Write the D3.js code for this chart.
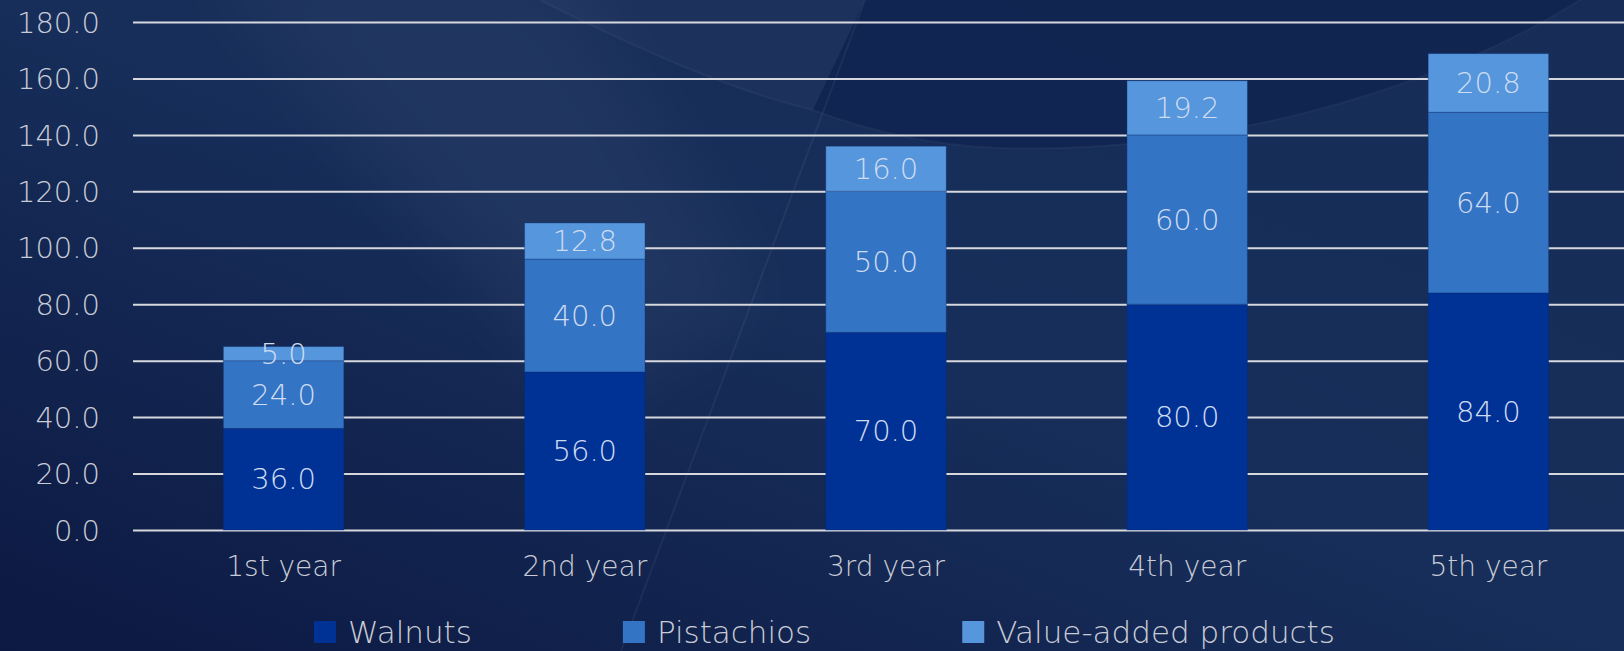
<!DOCTYPE html>
<html>
<head>
<meta charset="utf-8">
<script src="https://cdn.jsdelivr.net/npm/d3@7"></script>
<style>
  html, body { margin: 0; padding: 0; background: #13264f; overflow: hidden; }
  svg { display: block; }
  text { font-family: "DejaVu Sans", sans-serif; font-weight: 200; }
</style>
</head>
<body>
<svg id="chart" width="1624" height="651"></svg>
<script>
// chart data
const categories = ["1st year", "2nd year", "3rd year", "4th year", "5th year"];
const seriesNames = ["Walnuts", "Pistachios", "Value-added products"];
const walnuts = [36.0, 56.0, 70.0, 80.0, 84.0];
const pistachios = [24.0, 40.0, 50.0, 60.0, 64.0];
const valueAdded = [5.0, 12.8, 16.0, 19.2, 20.8];
const yTicks = [0, 20, 40, 60, 80, 100, 120, 140, 160, 180];

const colors = ["#003296", "#3474c4", "#5596dc"];
let width = 1624, height = 651;

const rows = categories.map((c, i) => ({
  cat: c,
  "Walnuts": walnuts[i],
  "Pistachios": pistachios[i],
  "Value-added products": valueAdded[i]
}));

const svg = d3.select("#chart");
const defs = svg.append("defs");

// --- background ---
const bg = defs.append("linearGradient").attr("id", "bgGrad")
  .attr("x1", "0").attr("y1", "1").attr("x2", "1").attr("y2", "0");
bg.append("stop").attr("offset", "0").attr("stop-color", "#0c1942");
bg.append("stop").attr("offset", "0.5").attr("stop-color", "#172e5a");
bg.append("stop").attr("offset", "1").attr("stop-color", "#172d58");
svg.append("rect").attr("width", width).attr("height", height).attr("fill", "url(#bgGrad)");

defs.append("filter").attr("id", "soft")
  .attr("x", "-50%").attr("y", "-50%").attr("width", "200%").attr("height", "200%")
  .append("feGaussianBlur").attr("stdDeviation", 35);

const deco = svg.append("g");
// soft light band top left
deco.append("path")
  .attr("d", "M200,-40 L560,-40 L760,300 L600,420 Z")
  .attr("fill", "#ffffff").attr("opacity", 0.035)
  .attr("filter", "url(#soft)");
// dark cap at top right, under the big arc
deco.append("path")
  .attr("d", "M865,0 L813,110 C880,135 940,146 1000,148 C1200,154 1430,95 1580,0 Z")
  .attr("fill", "#0d1f4c").attr("opacity", 0.55);
// lighter wedge left of the arc
deco.append("path")
  .attr("d", "M540,0 C640,50 730,90 813,110 L865,0 Z")
  .attr("fill", "#ffffff").attr("opacity", 0.025);
// thin streaks
deco.append("path")
  .attr("d", "M865,0 L621,651")
  .attr("stroke", "#ffffff").attr("stroke-opacity", 0.05).attr("stroke-width", 2).attr("fill", "none");
deco.append("path")
  .attr("d", "M540,0 C640,50 730,90 813,110 C880,135 940,146 1000,148 C1200,154 1430,95 1580,0")
  .attr("stroke", "#ffffff").attr("stroke-opacity", 0.04).attr("stroke-width", 2).attr("fill", "none");

// --- scales ---
const x = d3.scaleBand()
  .domain(categories)
  .range([133, 1639])
  .paddingInner(0.6)
  .paddingOuter(0.3);

const y = d3.scaleLinear()
  .domain([0, 180])
  .range([530, 22]);

// gridlines
svg.append("g")
  .attr("class", "grid")
  .attr("transform", "translate(133,0)")
  .call(d3.axisLeft(y).tickValues(yTicks).tickSize(-(width - 133)).tickFormat(""))
  .call(g => g.select(".domain").remove())
  .call(g => g.selectAll("line").attr("stroke", "#d6d8de").attr("stroke-width", 2));

// y axis labels
svg.append("g")
  .attr("transform", "translate(100,0)")
  .call(d3.axisLeft(y).tickValues(yTicks).tickSize(0).tickPadding(0).tickFormat(d3.format(".1f")))
  .call(g => g.select(".domain").remove())
  .call(g => g.selectAll("text")
    .attr("fill", "#c9ccd6")
    .style("font-size", "29px")
    .attr("dy", "0.35em"));

// --- stacked bars ---
const stack = d3.stack().keys(seriesNames);
const layers = stack(rows);

const layerG = svg.append("g").selectAll("g")
  .data(layers)
  .enter()
  .append("g")
  .attr("fill", (d, i) => colors[i]);

layerG.selectAll("rect")
  .data(d => d)
  .enter()
  .append("rect")
  .attr("x", d => x(d.data.cat))
  .attr("y", d => y(d[1]))
  .attr("width", x.bandwidth())
  .attr("height", d => y(d[0]) - y(d[1]))
  .attr("stroke", "#0a2a70")
  .attr("stroke-opacity", 0.35)
  .attr("stroke-width", 1);

// value labels
layerG.selectAll("text")
  .data(d => d.map(v => ({ v: v, key: d.key })))
  .enter()
  .append("text")
  .attr("x", d => x(d.v.data.cat) + x.bandwidth() / 2)
  .attr("y", d => (y(d.v[0]) + y(d.v[1])) / 2)
  .attr("dy", "0.35em")
  .attr("text-anchor", "middle")
  .attr("fill", "#cfdcf2")
  .style("font-size", "29px")
  .text(d => d3.format(".1f")(d.v.data[d.key]));

// x axis labels
svg.append("g")
  .attr("transform", "translate(0,530)")
  .call(d3.axisBottom(x).tickSize(0).tickPadding(0))
  .call(g => g.select(".domain").remove())
  .call(g => g.selectAll("text")
    .attr("y", 46)
    .attr("dy", 0)
    .attr("fill", "#c9ccd6")
    .style("font-size", "28px"));

// --- legend ---
const legend = svg.append("g");
const items = legend.selectAll("g")
  .data(seriesNames)
  .enter()
  .append("g");

items.append("rect")
  .attr("width", 22)
  .attr("height", 22)
  .attr("y", 621)
  .attr("fill", (d, i) => colors[i]);

items.append("text")
  .attr("x", 34)
  .attr("y", 643)
  .attr("fill", "#c9ccd6")
  .style("font-size", "31px")
  .text(d => d);

// lay legend items out in a row
let cursor = 314;
items.attr("transform", function () {
  const w = d3.select(this).select("text").node().getComputedTextLength();
  const t = `translate(${cursor},0)`;
  cursor += 34 + w + 151;
  return t;
});
</script>
</body>
</html>
